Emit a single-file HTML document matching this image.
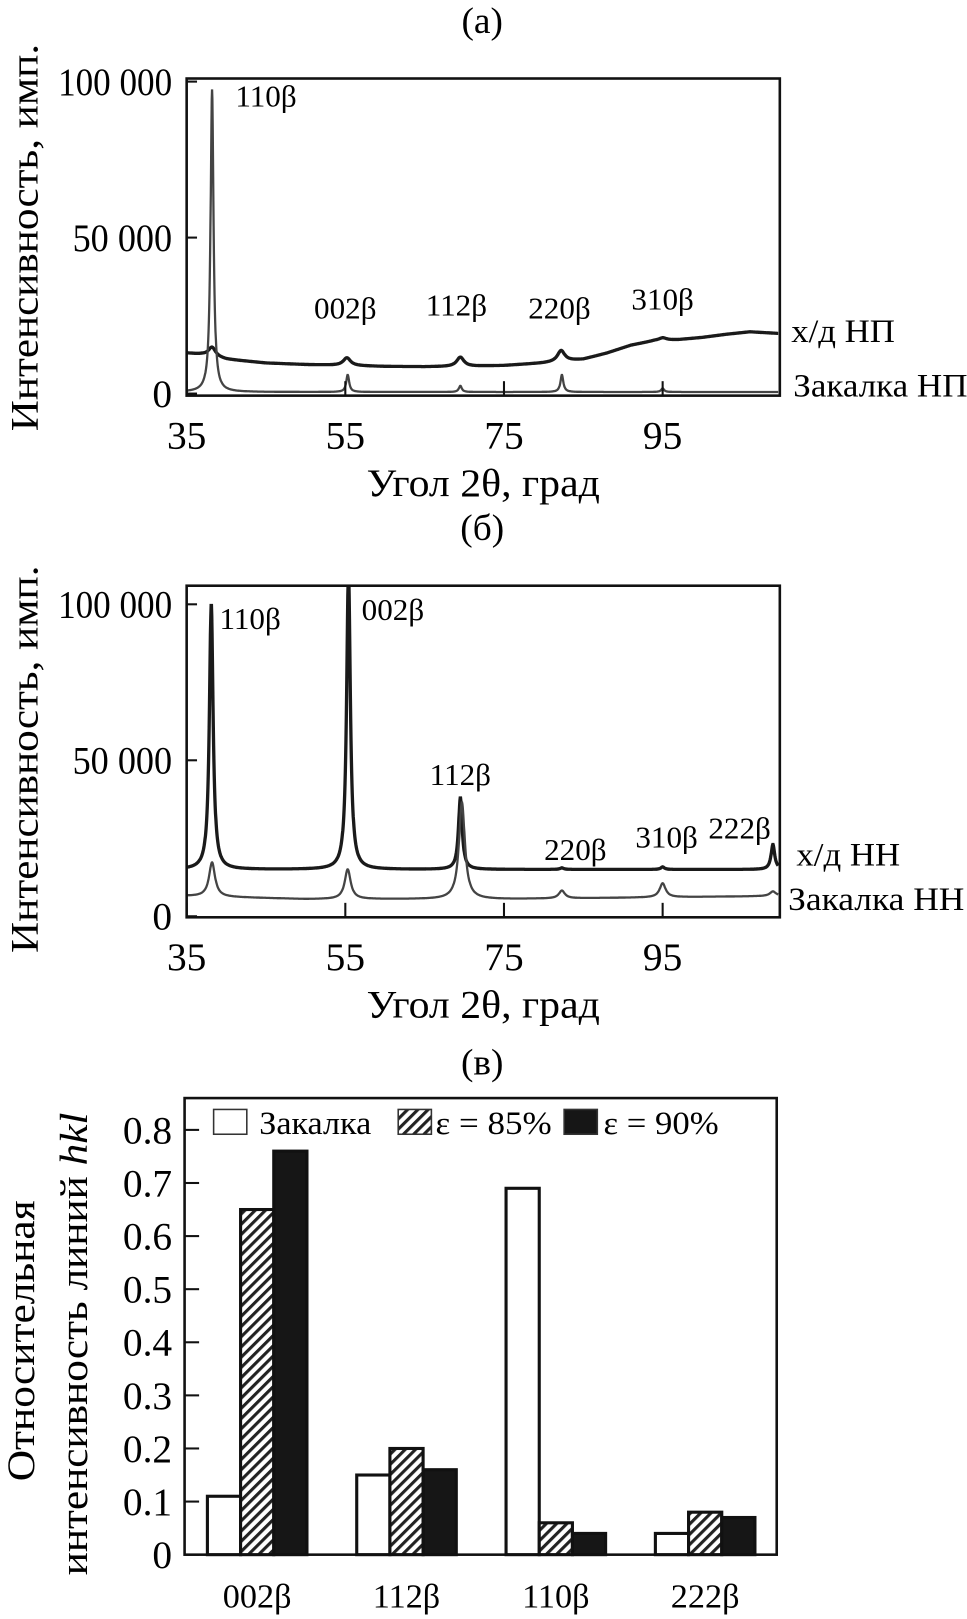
<!DOCTYPE html>
<html><head><meta charset="utf-8">
<style>
html,body{margin:0;padding:0;background:#fff;}
svg{display:block;font-family:"Liberation Serif",serif;}
</style></head>
<body>
<svg id="fig" width="967" height="1619" viewBox="0 0 967 1619" xmlns="http://www.w3.org/2000/svg">
<defs>
<pattern id="hatch" patternUnits="userSpaceOnUse" width="7" height="7" patternTransform="rotate(45)">
<rect width="7" height="7" fill="#fff"/><rect width="3" height="7" fill="#222"/>
</pattern>
</defs>
<g transform="scale(1.037,1.033)">
<g id="pa"></g>
<g id="pb"></g>
<g id="pc"></g>
</g>
</svg>
<script>
// ---- Panel (a) data ----
const aXTicks = [35, 55, 75, 95];
const aYTicks = [0, 50000, 100000];
const aYTickLabels = ["0", "50 000", "100 000"];
const aHdBaseX = [35, 37, 40, 45, 50, 55, 60, 65, 70, 75, 80, 85, 88, 91, 94, 97, 100, 103, 106, 109.5];
const aHdBaseY = [13000, 12500, 11000, 9800, 9300, 9000, 8700, 8600, 8700, 9000, 9800, 11000, 13000, 15500, 17000, 17300, 18000, 19000, 19800, 19300];
const aHdPeakPos = [38.2, 55.2, 69.5, 82.2, 95];
const aHdPeakH = [3000, 2500, 3000, 3500, 800];
const aZkBaseX = [35, 109.5];
const aZkBaseY = [500, 500];
const aZkPeakPos = [38.2, 55.3, 69.5, 82.3, 95];
const aZkPeakH = [97000, 5500, 2000, 5500, 1200];
const aPeakLabels = ["110β", "002β", "112β", "220β", "310β"];
const aPeakLabelX = [45, 55, 69, 82, 95];
const aPeakLabelY = [92000, 24000, 25000, 24000, 27000];

// ---- Panel (b) data ----
const bHdBaseX = [35, 109.5];
const bHdBaseY = [15000, 15000];
const bHdPeakPos = [38.1, 55.4, 69.5, 82.3, 95, 108.9];
const bHdPeakH = [85000, 95000, 23000, 500, 800, 8000];
const bZkBaseX = [35, 50, 75, 109.5];
const bZkBaseY = [6500, 5500, 5500, 6500];
const bZkPeakPos = [38.2, 55.3, 69.7, 82.3, 95, 108.9];
const bZkPeakH = [11000, 9500, 31000, 2500, 4500, 1500];
const bPeakLabels = ["110β", "002β", "112β", "220β", "310β", "222β"];
const bPeakLabelX = [43, 61, 69.5, 84, 95.5, 104.7];
const bPeakLabelY = [92000, 95000, 42000, 18000, 22000, 25000];

// ---- Panel (c) data ----
const cCategories = ["002β", "112β", "110β", "222β"];
const cQuench = [0.11, 0.15, 0.69, 0.04];
const cEps85 = [0.65, 0.20, 0.06, 0.08];
const cEps90 = [0.76, 0.16, 0.04, 0.07];
const cYTicks = [0, 0.1, 0.2, 0.3, 0.4, 0.5, 0.6, 0.7, 0.8];
const cYTickLabels = ["0", "0.1", "0.2", "0.3", "0.4", "0.5", "0.6", "0.7", "0.8"];

const NS = "http://www.w3.org/2000/svg";
function mk(parent, tag, attrs, text){
  const e = document.createElementNS(NS, tag);
  for (const k in attrs) e.setAttribute(k, attrs[k]);
  if (text !== undefined) e.textContent = text;
  parent.appendChild(e); return e;
}
function interp(xs, ys, x){
  if (x <= xs[0]) return ys[0];
  for (let i = 1; i < xs.length; i++) if (x <= xs[i]) {
    const t = (x - xs[i-1]) / (xs[i] - xs[i-1]); return ys[i-1] + t * (ys[i] - ys[i-1]);
  }
  return ys[ys.length-1];
}
function spectrum(bx, by, pp, ph, w, x){
  let v = interp(bx, by, x);
  for (let i = 0; i < pp.length; i++){ const d = (x - pp[i]) / w; v += ph[i] / (1 + d*d); }
  return v;
}

function drawSpectrumPanel(g, cfg){
  const L=180, R=752, T=cfg.top, B=cfg.bottom;
  const xs = v => L + (v - 35) * 7.65;
  const ys = v => cfg.zeroY - v * (cfg.zeroY - cfg.hundredY) / 100000;
  const pl = mk(g, "text", {x:465, y:T-44, "font-size":36, "text-anchor":"middle"}, cfg.title);
  
  const clip = "clip" + cfg.id;
  const cp = mk(g, "clipPath", {id:clip}); mk(cp, "rect", {x:L, y:T, width:R-L, height:B-T});
  const series = [
    {bx:cfg.hdBX, by:cfg.hdBY, pp:cfg.hdPP, ph:cfg.hdPH, w:cfg.hdW, sw:3.2, col:"#1a1a1a", name:"series-hd"},
    {bx:cfg.zkBX, by:cfg.zkBY, pp:cfg.zkPP, ph:cfg.zkPH, w:cfg.zkW, sw:2.2, col:"#444", name:"series-quench"}
  ];
  series.forEach(s=>{
    let d = "";
    for (let x = 35; x <= 109.6; x += 0.04){
      d += (d ? "L" : "M") + xs(x).toFixed(1) + "," + ys(spectrum(s.bx, s.by, s.pp, s.ph, s.w, x)).toFixed(1);
    }
    const p = mk(g, "path", {d:d, fill:"none", stroke:s.col, "stroke-width":s.sw, "clip-path":"url(#"+clip+")"});
    
    
  });
  const f = mk(g, "rect", {x:L, y:T, width:R-L, height:B-T, fill:"none", stroke:"#111", "stroke-width":2.5});
  
  
  cfg.yTicks.forEach((v,i)=>{
    mk(g, "line", {x1:L, x2:L+10, y1:ys(v), y2:ys(v), stroke:"#111", "stroke-width":2});
    const attrs = {x:L-14, y:ys(v)+13, "font-size":38, "text-anchor":"end"};
    if (cfg.yLabels[i].length > 5) { attrs.textLength = cfg.yLabels[i].length > 6 ? 110 : 96; attrs.lengthAdjust = "spacingAndGlyphs"; }
    const t = mk(g, "text", attrs, cfg.yLabels[i]);
    
    
  });
  cfg.xTicks.forEach(v=>{
    mk(g, "line", {x1:xs(v), x2:xs(v), y1:B, y2:B-14, stroke:"#111", "stroke-width":2});
    const t = mk(g, "text", {x:xs(v), y:B+51, "font-size":38, "text-anchor":"middle"}, String(v));
    
    
  });
  cfg.pl.forEach((lab,i)=>{
    const t = mk(g, "text", {x:xs(cfg.plx[i]), y:ys(cfg.ply[i]), "font-size":30, "text-anchor":"middle"}, lab);
    
    
  });
  const xt = mk(g, "text", {x:466, y:B+97, "font-size":38, "text-anchor":"middle", textLength:225, lengthAdjust:"spacingAndGlyphs"}, "Угол 2θ, град");
  
  
  const yt = mk(g, "text", {x:0, y:0, "font-size":38, "text-anchor":"middle", textLength:375, lengthAdjust:"spacingAndGlyphs", transform:"translate(36,"+(cfg.titleY)+") rotate(-90)"}, "Интенсивность, имп.");
  
  
  cfg.side.forEach(s=>{
    const t = mk(g, "text", {x:s[0], y:s[1], "font-size":32, textLength:s[3], lengthAdjust:"spacingAndGlyphs"}, s[2]);
    
    
  });
}

drawSpectrumPanel(document.getElementById("pa"), {id:"a", title:"(а)", top:76, bottom:383, zeroY:381, hundredY:79, titleY:230,
  hdBX:aHdBaseX, hdBY:aHdBaseY, hdPP:aHdPeakPos, hdPH:aHdPeakH, hdW:0.55,
  zkBX:aZkBaseX, zkBY:aZkBaseY, zkPP:aZkPeakPos, zkPH:aZkPeakH, zkW:0.22,
  yTicks:aYTicks, yLabels:aYTickLabels, xTicks:aXTicks, pl:aPeakLabels, plx:aPeakLabelX, ply:aPeakLabelY,
  side:[[763,331,"х/д НП",100],[765,384,"Закалка НП",168]]});

drawSpectrumPanel(document.getElementById("pb"), {id:"b", title:"(б)", top:567, bottom:888, zeroY:887, hundredY:585, titleY:735,
  hdBX:bHdBaseX, hdBY:bHdBaseY, hdPP:bHdPeakPos, hdPH:bHdPeakH, hdW:0.28,
  zkBX:bZkBaseX, zkBY:bZkBaseY, zkPP:bZkPeakPos, zkPH:bZkPeakH, zkW:0.45,
  yTicks:aYTicks, yLabels:aYTickLabels, xTicks:aXTicks, pl:bPeakLabels, plx:bPeakLabelX, ply:bPeakLabelY,
  side:[[768,838,"х/д НН",100],[760,881,"Закалка НН",170]]});

// ---- Panel (c) ----
(function(){
  const g = document.getElementById("pc");
  const L=178, R=749, T=1063, B=1505;
  const ys = v => B - v * 514;
  const groupStart = i => 200 + i * 144;
  const bw = 32;
  const pl = mk(g, "text", {x:465, y:1040, "font-size":36, "text-anchor":"middle"}, "(в)");
  
  const series = [
    {vals:cQuench, fill:"#fff", name:"bar-quench"},
    {vals:cEps85, fill:"url(#hatch)", name:"bar-eps85"},
    {vals:cEps90, fill:"#161616", name:"bar-eps90"}
  ];
  cCategories.forEach((c,i)=>{
    series.forEach((s,j)=>{
      const r = mk(g, "rect", {x:groupStart(i)+j*bw, y:ys(s.vals[i]), width:bw, height:B-ys(s.vals[i]), fill:s.fill, stroke:"#111", "stroke-width":3});
      
      
    });
    const t = mk(g, "text", {x:groupStart(i)+1.5*bw, y:1556, "font-size":33, "text-anchor":"middle"}, c);
    
    
  });
  const f = mk(g, "rect", {x:L, y:T, width:R-L, height:B-T, fill:"none", stroke:"#111", "stroke-width":2.5});
  
  
  cYTicks.forEach((v,i)=>{
    mk(g, "line", {x1:L, x2:L+14, y1:ys(v), y2:ys(v), stroke:"#111", "stroke-width":2});
    const t = mk(g, "text", {x:L-12, y:ys(v)+13, "font-size":38, "text-anchor":"end"}, cYTickLabels[i]);
    
    
  });
  const lg = mk(g, "g", {});
  
  
  const items = [[206,"#fff","Закалка",250,108],[384,"url(#hatch)","ε = 85%",420,112],[544,"#161616","ε = 90%",582,111]];
  items.forEach(it=>{
    const e = mk(lg, "g", {});
    
    
    mk(e, "rect", {x:it[0], y:1074, width:32, height:24, fill:it[1], stroke:"#333", "stroke-width":1.5});
    mk(e, "text", {x:it[3], y:1098, "font-size":32, textLength:it[4], lengthAdjust:"spacingAndGlyphs"}, it[2]);
  });
  const y1 = mk(g, "text", {x:0, y:0, "font-size":38, "text-anchor":"middle", textLength:272, lengthAdjust:"spacingAndGlyphs", transform:"translate(33,1298) rotate(-90)"}, "Относительная");
  
  
  const y2 = mk(g, "text", {x:0, y:0, "font-size":38, "text-anchor":"middle", textLength:448, lengthAdjust:"spacingAndGlyphs", transform:"translate(84,1301) rotate(-90)"});
  
  
  mk(y2, "tspan", {}, "интенсивность линий ");
  mk(y2, "tspan", {"font-style":"italic"}, "hkl");
})();
</script>
</body></html>
